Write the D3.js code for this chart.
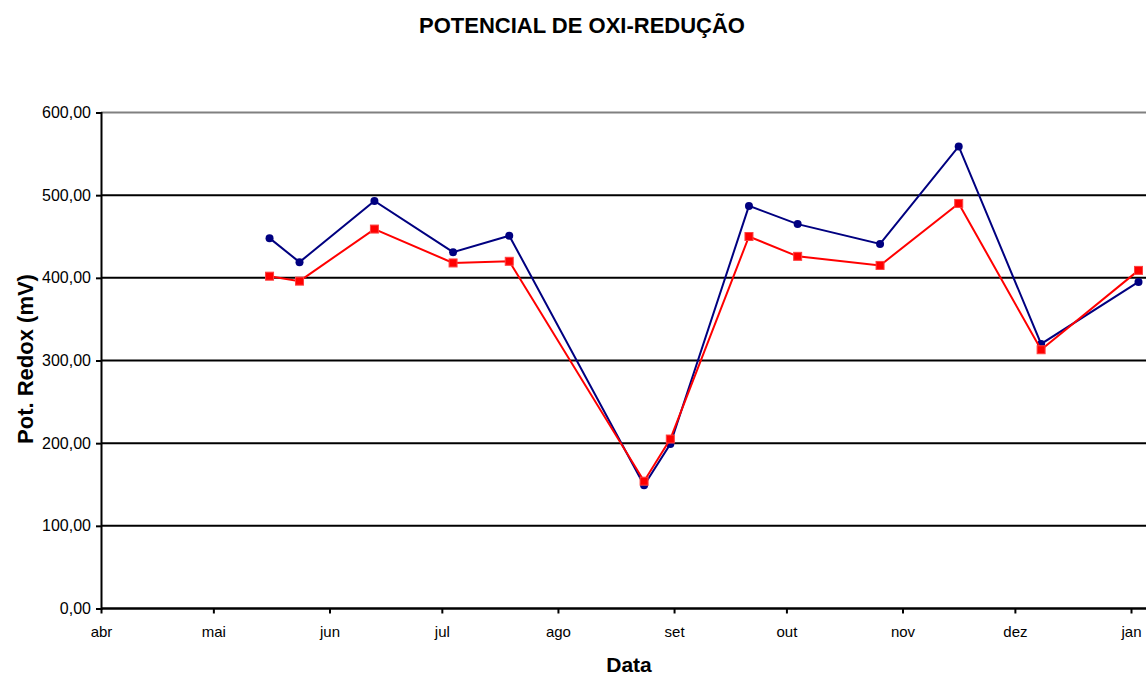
<!DOCTYPE html>
<html>
<head>
<meta charset="utf-8">
<script src="https://cdn.jsdelivr.net/npm/d3@7"></script>
<style>
  body { margin: 0; background: #fff; }
  text { font-family: "Liberation Sans", Arial, sans-serif; }
</style>
</head>
<body>
<svg id="body" width="1146" height="675"></svg>
<script>
let svg = d3.select("#body");

// sample dates and redox values (mV)
let dates = ["2004-05-16", "2004-05-24", "2004-06-13", "2004-07-04", "2004-07-19",
             "2004-08-24", "2004-08-31", "2004-09-21", "2004-10-04", "2004-10-26",
             "2004-11-16", "2004-12-08", "2005-01-03"];
let blueVals = [448, 419, 493, 431, 451, 149, 199, 487, 465, 441, 559, 320, 395];
let redVals  = [402, 396, 459, 418, 420, 154, 205, 450, 426, 415, 490, 313, 409];
let monthLabels = ["abr", "mai", "jun", "jul", "ago", "set", "out", "nov", "dez", "jan"];
let yTicks = [0, 100, 200, 300, 400, 500, 600];

let parse = d3.timeParse("%Y-%m-%d");
let days = dates.map(parse);

let plotLeft = 101, plotTop = 112.5, plotBottom = 608.5;
let x = d3.scaleTime()
          .domain([parse("2004-04-01"), parse("2005-01-01")])
          .range([plotLeft, 1131]);
let y = d3.scaleLinear()
          .domain([0, 600])
          .range([plotBottom, plotTop]);

// title
svg.append("text")
   .attr("x", 582).attr("y", 33)
   .attr("text-anchor", "middle")
   .attr("font-size", 22).attr("font-weight", "bold")
   .text("POTENCIAL DE OXI-REDUÇÃO");

// gridlines
svg.selectAll("line.grid")
   .data(yTicks.filter(d => d > 0))
   .enter()
   .append("line")
   .attr("x1", plotLeft).attr("x2", 1146)
   .attr("y1", d => y(d)).attr("y2", d => y(d))
   .attr("stroke", d => d == 600 ? "#808080" : "#000")
   .attr("stroke-width", 2);

// y axis
let yAxis = svg.append("g")
   .attr("transform", `translate(${plotLeft},0)`)
   .call(d3.axisLeft(y).tickValues(yTicks).tickSize(5)
           .tickFormat(d => d3.format(".2f")(d).replace(".", ",")));
yAxis.select(".domain").attr("stroke", "#000").attr("stroke-width", 2);
yAxis.selectAll(".tick line").attr("stroke-width", 2);
yAxis.selectAll("text").attr("font-size", 16).attr("fill", "#000")
     .attr("font-family", "Liberation Sans, Arial, sans-serif").attr("dx", -2);

// x axis
let monthTicks = d3.timeMonth.range(parse("2004-04-01"), parse("2005-01-02"));
let xAxis = svg.append("g")
   .attr("transform", `translate(0,${plotBottom})`)
   .call(d3.axisBottom(x).tickValues(monthTicks).tickSize(5).tickSizeOuter(0)
           .tickFormat((d, i) => monthLabels[i]));
xAxis.select(".domain").attr("d", `M${plotLeft},0H1146`).attr("stroke", "#000").attr("stroke-width", 2.5);
xAxis.selectAll(".tick line").attr("stroke-width", 2);
xAxis.selectAll("text").attr("font-size", 15).attr("fill", "#000")
     .attr("font-family", "Liberation Sans, Arial, sans-serif")
     .attr("y", 28.5).attr("dy", 0);

// axis titles
svg.append("text")
   .attr("x", 629).attr("y", 672)
   .attr("text-anchor", "middle")
   .attr("font-size", 21).attr("font-weight", "bold")
   .text("Data");
svg.append("text")
   .attr("transform", "translate(33,359) rotate(-90)")
   .attr("text-anchor", "middle")
   .attr("font-size", 22).attr("font-weight", "bold")
   .text("Pot. Redox (mV)");

let line = d3.line()
             .x((d, i) => x(days[i]))
             .y(d => y(d));

// blue series
svg.append("path")
   .attr("d", line(blueVals))
   .attr("fill", "none").attr("stroke", "#000080").attr("stroke-width", 2);
svg.selectAll("circle.blue")
   .data(blueVals)
   .enter()
   .append("circle")
   .attr("cx", (d, i) => x(days[i]))
   .attr("cy", d => y(d))
   .attr("r", 4)
   .attr("fill", "#000080");

// red series
svg.append("path")
   .attr("d", line(redVals))
   .attr("fill", "none").attr("stroke", "#ff0000").attr("stroke-width", 2);
svg.selectAll("rect.red")
   .data(redVals)
   .enter()
   .append("rect")
   .attr("x", (d, i) => x(days[i]) - 4)
   .attr("y", d => y(d) - 4)
   .attr("width", 8).attr("height", 8)
   .attr("fill", "#ff0000")
   .attr("stroke", "#ff4040").attr("stroke-width", 1);
</script>
</body>
</html>
